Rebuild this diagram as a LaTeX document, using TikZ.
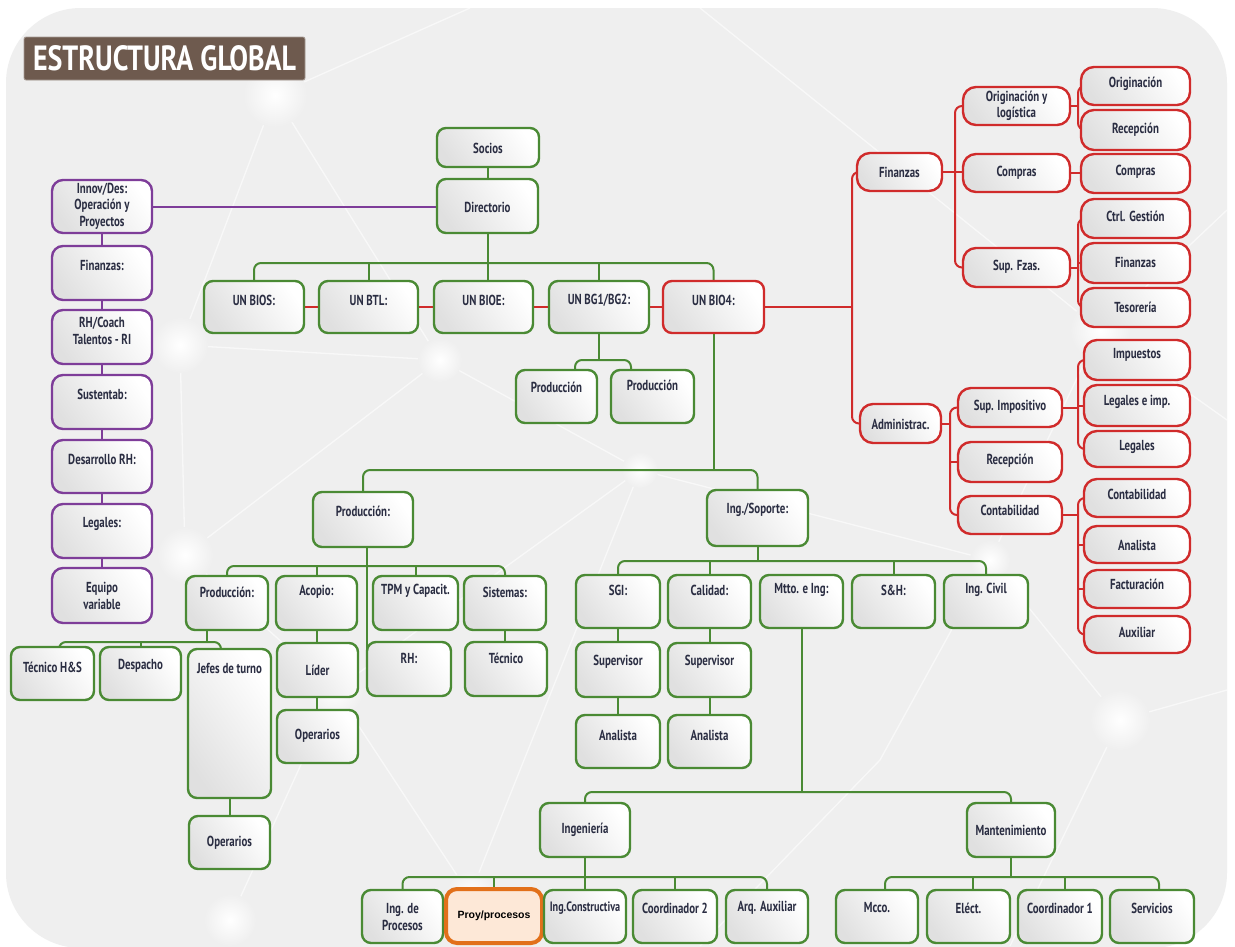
\documentclass[tikz,border=0pt]{standalone}
\usepackage{fontspec}
\setmainfont{PT Sans}[FakeStretch=0.75]
\newfontfamily\titlefont{PT Sans}[FakeStretch=0.8]
\newfontfamily\arialfont{Liberation Sans}
\usetikzlibrary{fit}

\definecolor{grn}{HTML}{4A8A34}
\definecolor{redl}{HTML}{D02B2B}
\definecolor{pur}{HTML}{7E3D99}
\definecolor{ink}{HTML}{2A2D42}
\definecolor{bgc}{HTML}{EFEFEF}
\definecolor{ttl}{HTML}{6E5A4E}
\definecolor{org}{HTML}{E2701A}
\definecolor{peach}{HTML}{FDE8D7}

\pgfdeclarelayer{net}
\pgfdeclarelayer{lines}
\pgfsetlayers{net,lines,main}

\tikzset{
  box/.style={draw, line width=2.4pt, rounded corners=9pt, inner sep=0pt, outer sep=0pt,
    left color=black!12, right color=white, shading angle=125},
  gbox/.style={box, draw=grn},
  rbox/.style={box, draw=redl, rounded corners=13pt},
  pbox/.style={box, draw=pur, rounded corners=11pt},
  obox/.style={draw=org, line width=4pt, rounded corners=11pt, fill=peach, inner sep=0pt},
  lbl/.style={font=\fontsize{14.5}{16.5}\selectfont\bfseries, text=ink, align=center, inner sep=0pt},
  conn/.style={line width=2pt, rounded corners=7pt},
  gline/.style={conn, draw=grn},
  rline/.style={conn, draw=redl},
  pline/.style={conn, draw=pur},
  netline/.style={draw=white, line width=1.3pt, opacity=0.6},
}

% box: style, name, x1, y1, x2, y2, text y, text
\newcommand\bx[8]{%
  \node[#1, fit={(#3,#4)(#5,#6)}] (#2) {};
  \node[lbl] (#2-t) at (#2.center |- 0,#7) {#8};}

\begin{document}
\begin{tikzpicture}[x=1pt, y=-1pt]
\useasboundingbox (0,0) rectangle (1235,946);

% ---------- backdrop ----------
\begin{pgfonlayer}{net}
  \fill[white] (0,0) rectangle (1235,946);
  \fill[bgc, rounded corners=75pt] (6,8) rectangle (1227,948);
  \path[netline] (275,95) -- (180,345) -- (185,555) -- (335,690) -- (470,895);
  \path[netline] (275,95) -- (470,8);
  \path[netline] (275,95) -- (440,360);
  \path[netline] (180,345) -- (440,360) -- (640,470);
  \path[netline] (185,555) -- (440,360);
  \path[netline] (335,690) -- (640,470) -- (990,560);
  \path[netline] (335,690) -- (230,920);
  \path[netline] (470,895) -- (640,470);
  \path[netline] (700,8) -- (1100,330) -- (1227,210);
  \path[netline] (1100,330) -- (990,560) -- (1120,720) -- (1227,690);
  \path[netline] (1120,720) -- (1010,946);
  \path[netline] (990,560) -- (880,760) -- (700,946);
  \path[netline] (1100,330) -- (1227,420);
  \foreach \cx/\cy/\r in {275/95/32, 180/345/28, 185/555/28, 335/690/28, 470/895/24,
                          230/920/26, 440/360/22, 1100/330/30, 1120/720/30, 990/560/20, 640/470/18}
    \shade[inner color=white, outer color=bgc] (\cx,\cy) circle (\r);
\end{pgfonlayer}

% ---------- title ----------
\node[fill=ttl, draw=ttl!60!white, line width=0.8pt, rounded corners=2pt, inner sep=0pt,
      fit={(24,37)(305,80)}] (title) {};
\node[font=\titlefont\fontsize{35}{35}\selectfont\bfseries, text=white, inner sep=0pt] (title-t)
      at (title.center) {ESTRUCTURA GLOBAL};

% ---------- staff column ----------
\bx{pbox}{p1}{52}{180}{152}{233}{206}{Innov/Des:\\Operación y\\Proyectos}
\bx{pbox}{p2}{52}{246}{152}{300}{265}{Finanzas:}
\bx{pbox}{p3}{52}{310}{152}{364}{331}{RH/Coach\\Talentos - RI}
\bx{pbox}{p4}{52}{375}{152}{429}{394}{Sustentab:}
\bx{pbox}{p5}{52}{440}{152}{493}{459}{Desarrollo RH:}
\bx{pbox}{p6}{52}{504}{152}{558}{524}{Legales:}
\bx{pbox}{p7}{52}{568}{152}{623}{596}{Equipo\\variable}

% ---------- top ----------
\bx{gbox}{socios}{437}{128}{539}{167}{148}{Socios}
\bx{gbox}{dir}{437}{179}{538}{233}{207}{Directorio}
\bx{gbox}{bios}{204}{281}{304}{333}{300}{UN BIOS:}
\bx{gbox}{btl}{319}{281}{418}{333}{300}{UN BTL:}
\bx{gbox}{bioe}{434}{281}{533}{333}{300}{UN BIOE:}
\bx{gbox}{bg}{549}{281}{649}{333}{300}{UN BG1/BG2:}
\bx{gbox, draw=redl}{bio4}{663}{281}{764}{333}{300}{UN BIO4:}
\bx{gbox}{bgp1}{516}{370}{597}{423}{387}{Producción}
\bx{gbox}{bgp2}{611}{370}{694}{423}{385}{Producción}

% ---------- finance / administration ----------
\bx{rbox}{fin}{857}{153}{942}{191}{172}{Finanzas}
\bx{rbox}{adm}{860}{404}{941}{443}{424}{Administrac.}
\bx{rbox}{orl}{963}{87}{1070}{125}{106}{Originación y\\logística}
\bx{rbox}{cmp}{963}{154}{1070}{192}{173}{Compras}
\bx{rbox}{sfz}{963}{248}{1070}{287}{267}{Sup. Fzas.}
\bx{rbox}{ori}{1081}{67}{1190}{105}{84}{Originación}
\bx{rbox}{rec}{1081}{110}{1190}{150}{130}{Recepción}
\bx{rbox}{cmp2}{1081}{154}{1190}{193}{172}{Compras}
\bx{rbox}{ctg}{1081}{199}{1190}{238}{216}{Ctrl. Gestión}
\bx{rbox}{fzs}{1081}{243}{1190}{283}{262}{Finanzas}
\bx{rbox}{tes}{1081}{288}{1190}{327}{307}{Tesorería}
\bx{rbox}{sim}{958}{388}{1062}{427}{407}{Sup. Impositivo}
\bx{rbox}{rcp}{958}{442}{1062}{482}{461}{Recepción}
\bx{rbox}{cnt}{958}{496}{1062}{534}{510}{Contabilidad}
\bx{rbox}{imp}{1084}{340}{1190}{380}{355}{Impuestos}
\bx{rbox}{lei}{1084}{385}{1190}{426}{402}{Legales e imp.}
\bx{rbox}{leg}{1084}{431}{1190}{467}{447}{Legales}
\bx{rbox}{cn2}{1084}{479}{1190}{517}{494}{Contabilidad}
\bx{rbox}{ana}{1084}{526}{1190}{563}{545}{Analista}
\bx{rbox}{fac}{1084}{570}{1190}{608}{584}{Facturación}
\bx{rbox}{aux}{1084}{616}{1190}{653}{632}{Auxiliar}

% ---------- production ----------
\bx{gbox}{prod}{313}{492}{413}{547}{511}{Producción:}
\bx{gbox}{pr2}{186}{576}{268}{630}{592}{Producción:}
\bx{gbox}{aco}{276}{576}{357}{630}{592}{Acopio:}
\bx{gbox}{tpm}{373}{576}{458}{630}{591}{TPM y Capacit.}
\bx{gbox}{sis}{464}{576}{546}{630}{592}{Sistemas:}
\bx{gbox}{tec}{11}{647}{94}{700}{667}{Técnico H\&S}
\bx{gbox}{des}{100}{647}{181}{700}{666}{Despacho}
\bx{gbox}{jef}{188}{649}{271}{798}{668}{Jefes de turno}
\bx{gbox}{op1}{189}{816}{270}{869}{843}{Operarios}
\bx{gbox}{lid}{277}{643}{358}{697}{670}{Líder}
\bx{gbox}{op2}{277}{710}{358}{763}{736}{Operarios}
\bx{gbox}{rh}{367}{642}{451}{696}{658}{RH:}
\bx{gbox}{tcn}{465}{642}{547}{696}{658}{Técnico}

% ---------- engineering / support ----------
\bx{gbox}{ing}{707}{490}{808}{546}{510}{Ing./Soporte:}
\bx{gbox}{sgi}{576}{575}{660}{628}{590}{SGI:}
\bx{gbox}{cal}{668}{575}{751}{628}{590}{Calidad:}
\bx{gbox}{mtt}{760}{575}{843}{628}{590}{Mtto. e Ing:}
\bx{gbox}{sh}{852}{575}{935}{628}{590}{S\&H:}
\bx{gbox}{civ}{944}{575}{1028}{628}{590}{Ing. Civil}
\bx{gbox}{sup1}{576}{642}{660}{697}{662}{Supervisor}
\bx{gbox}{sup2}{668}{643}{751}{697}{662}{Supervisor}
\bx{gbox}{an1}{576}{715}{660}{768}{735}{Analista}
\bx{gbox}{an2}{668}{715}{751}{768}{735}{Analista}
\bx{gbox}{ingn}{540}{803}{630}{857}{830}{Ingeniería}
\bx{gbox}{man}{967}{803}{1055}{857}{830}{Mantenimiento}
\bx{gbox}{ipr}{362}{890}{443}{943}{917}{Ing. de\\Procesos}
\node[obox, fit={(446,889)(542,943)}] (proy) {};
\node[font=\arialfont\fontsize{10.5}{12}\selectfont\bfseries, text=black, inner sep=0pt]
  (proy-t) at (proy.center) {Proy/procesos};
\node[gbox, fit={(544,890)(626,943)}] (icon) {};
\node[lbl, font=\fontsize{13.6}{15}\selectfont\bfseries] (icon-t) at (icon.center |- 0,908) {Ing.Constructiva};
\bx{gbox}{co2}{633}{890}{717}{943}{908}{Coordinador 2}
\bx{gbox}{arq}{726}{890}{808}{943}{908}{Arq. Auxiliar}
\bx{gbox}{mcc}{836}{890}{918}{943}{908}{Mcco.}
\bx{gbox}{ele}{927}{890}{1010}{943}{908}{Eléct.}
\bx{gbox}{co1}{1018}{890}{1102}{943}{908}{Coordinador 1}
\bx{gbox}{ser}{1110}{890}{1194}{943}{908}{Servicios}

% ---------- connectors ----------
\begin{pgfonlayer}{lines}
  % staff column
  \draw[pline] (p1.center) -- (p1.center -| dir.center);
  \draw[pline] (p1.center) -- (p7.center);
  % board and business units
  \coordinate (bU) at (0,263);
  \draw[gline] (socios.center) -- (socios.center |- dir.center);
  \draw[gline] (dir.center) -- (dir.center |- bioe.center);
  \draw[gline] (bios.center) |- (bio4.center |- bU) -- (bio4.center);
  \draw[gline] (btl.center) -- (btl.center |- bU);
  \draw[gline] (bg.center) -- (bg.center |- bU);
  \coordinate (rb) at (852,307);
  \draw[rline] (bios.center) -- (rb);
  \draw[rline] (fin.center) -| (rb) |- (adm.center);
  % finance branch
  \coordinate (fb) at (955,0);
  \coordinate (ob) at (1078,0);
  \draw[rline] (orl.center) -| (fb |- sfz.center) -- (sfz.center);
  \draw[rline] (fin.center) -- (fin.center -| cmp.center);
  \draw[rline] (ori.center) -| (ob |- rec.center) -- (rec.center);
  \draw[rline] (orl.center) -- (orl.center -| ob);
  \draw[rline] (cmp.center) -- (cmp.center -| cmp2.center);
  \draw[rline] (ctg.center) -| (ob |- tes.center) -- (tes.center);
  \draw[rline] (fzs.center) -- (fzs.center -| ob);
  \draw[rline] (sfz.center) -- (sfz.center -| ob);
  % administration branch
  \coordinate (ab) at (950,0);
  \draw[rline] (sim.center) -| (ab |- cnt.center) -- (cnt.center);
  \draw[rline] (adm.center) -- (adm.center -| ab);
  \draw[rline] (rcp.center) -- (rcp.center -| ab);
  \draw[rline] (imp.center) -| (ob |- leg.center) -- (leg.center);
  \draw[rline] (lei.center) -- (lei.center -| ob);
  \draw[rline] (sim.center) -- (sim.center -| ob);
  \draw[rline] (cn2.center) -| (ob |- aux.center) -- (aux.center);
  \draw[rline] (ana.center) -- (ana.center -| ob);
  \draw[rline] (fac.center) -- (fac.center -| ob);
  \draw[rline] (cnt.center) -- (cnt.center -| ob);
  % UN BG1/BG2
  \draw[gline] (bg.center) -- (bg.center |- 0,360);
  \draw[gline] (bgp1.center -| 575,0) |- (631,360) -- (bgp2.center -| 631,0);
  % UN BIO4
  \coordinate (bM) at (0,470);
  \draw[gline] (bio4.center) -- (bio4.center |- bM);
  \draw[gline] (prod.center) |- (ing.center |- bM) -- (ing.center);
  % production
  \coordinate (b2) at (0,566);
  \draw[gline] (prod.center -| 367,0) -- (rh.center -| 367,0);
  \draw[gline] (pr2.center) |- (sis.center |- b2) -- (sis.center);
  \draw[gline] (aco.center) -- (aco.center |- b2);
  \draw[gline] (tpm.center) -- (tpm.center |- b2);
  \draw[gline] (pr2.center -| 207,0) -- (207,642);
  \draw[gline] (tec.center -| 59,0) |- (221,642) -- (jef.center -| 221,0);
  \draw[gline] (des.center) -- (des.center |- 0,642);
  \draw[gline] (jef.center) -- (jef.center |- op1.center);
  \draw[gline] (aco.center) -- (aco.center |- op2.center);
  \draw[gline] (sis.center) -- (sis.center |- tcn.center);
  % engineering / support
  \coordinate (b3) at (0,561);
  \draw[gline] (ing.center) -- (ing.center |- b3);
  \draw[gline] (sgi.center) |- (civ.center |- b3) -- (civ.center);
  \draw[gline] (cal.center) -- (cal.center |- b3);
  \draw[gline] (sh.center) -- (sh.center |- b3);
  \draw[gline] (sgi.center) -- (sgi.center |- an1.center);
  \draw[gline] (cal.center) -- (cal.center |- an2.center);
  \coordinate (b4) at (0,792);
  \draw[gline] (mtt.center) -- (mtt.center |- b4);
  \draw[gline] (ingn.center) |- (man.center |- b4) -- (man.center);
  \coordinate (b5) at (0,877);
  \draw[gline] (ipr.center) |- (arq.center |- b5) -- (arq.center);
  \draw[gline] (ingn.center) -- (ingn.center |- icon.center);
  \draw[gline] (proy.center) -- (proy.center |- b5);
  \draw[gline] (co2.center) -- (co2.center |- b5);
  \draw[gline] (man.center) -- (man.center |- b5);
  \draw[gline] (mcc.center -| 885,0) |- (1159,877) -- (ser.center -| 1159,0);
  \draw[gline] (ele.center -| 973,0) -- (973,877);
  \draw[gline] (co1.center -| 1065,0) -- (1065,877);
\end{pgfonlayer}
\end{tikzpicture}
\end{document}
